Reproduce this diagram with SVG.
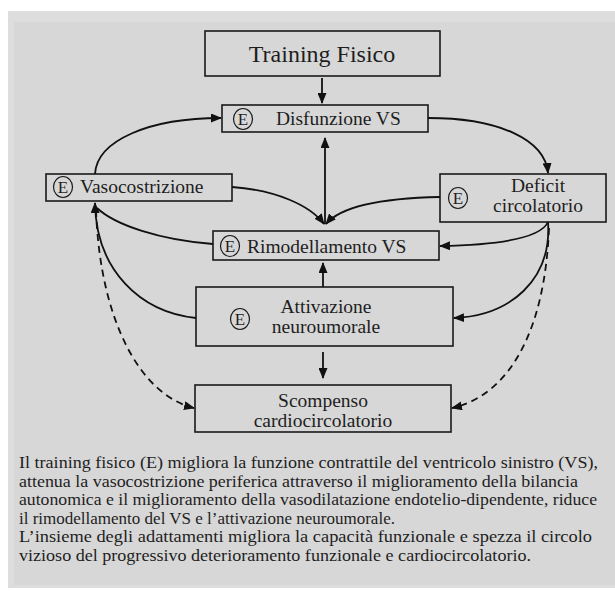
<svg xmlns="http://www.w3.org/2000/svg" width="615" height="592" viewBox="0 0 615 592">
<defs>
<marker id="ah" markerUnits="userSpaceOnUse" markerWidth="11" markerHeight="9" refX="10" refY="4.5" orient="auto">
<path d="M0,0 L11,4.5 L0,9 z" fill="#111"/>
</marker>
<style>
.box{fill:none;stroke:#1a1a1a;stroke-width:1.6}
.t{font-family:"Liberation Serif","Times New Roman",serif;font-size:19.5px;fill:#1e1e1e}
.c{text-anchor:middle}
.e{fill:none;stroke:#1a1a1a;stroke-width:1.2}
.et{font-family:"Liberation Serif","Times New Roman",serif;font-size:17px;fill:#1e1e1e;text-anchor:middle}
.ln{fill:none;stroke:#111;stroke-width:1.8}
.dash{stroke-dasharray:7,5}
.p{font-family:"Liberation Serif","Times New Roman",serif;font-size:17px;fill:#1e1e1e}
</style>
</defs>
<rect x="8" y="11" width="607" height="577" fill="#dddddd"/>
<rect x="14" y="22" width="601" height="563" fill="#d7d7d7"/>

<g id="training">
<rect class="box" x="205" y="31" width="235" height="45"/>
<text class="t c" x="322" y="62" style="font-size:24px">Training Fisico</text>
</g>
<g id="disfunzione">
<rect class="box" x="222" y="105" width="206" height="27"/>
<ellipse class="e" cx="243" cy="119" rx="9.5" ry="10.5"/>
<text class="et" x="243" y="125">E</text>
<text class="t" x="276" y="125">Disfunzione VS</text>
</g>
<g id="vasocostrizione">
<rect class="box" x="46" y="174" width="186" height="27"/>
<ellipse class="e" cx="63" cy="187" rx="9.5" ry="10.5"/>
<text class="et" x="63" y="193">E</text>
<text class="t" x="80" y="193">Vasocostrizione</text>
</g>
<g id="deficit">
<rect class="box" x="440" y="174" width="166" height="48"/>
<ellipse class="e" cx="458" cy="198" rx="9.5" ry="10.5"/>
<text class="et" x="458" y="204">E</text>
<text class="t c" x="538" y="192">Deficit</text>
<text class="t c" x="538" y="212">circolatorio</text>
</g>
<g id="rimodellamento">
<rect class="box" x="213" y="231" width="226" height="29"/>
<ellipse class="e" cx="230" cy="246" rx="9.5" ry="10.5"/>
<text class="et" x="230" y="252">E</text>
<text class="t" x="247" y="253">Rimodellamento VS</text>
</g>
<g id="attivazione">
<rect class="box" x="196" y="287" width="257" height="59"/>
<ellipse class="e" cx="240" cy="319" rx="9.5" ry="10.5"/>
<text class="et" x="240" y="325">E</text>
<text class="t c" x="326" y="313">Attivazione</text>
<text class="t c" x="326" y="333">neuroumorale</text>
</g>
<g id="scompenso">
<rect class="box" x="195" y="385" width="256" height="47"/>
<text class="t c" x="323" y="407">Scompenso</text>
<text class="t c" x="323" y="427">cardiocircolatorio</text>
</g>

<g id="connectors">
<path class="ln" d="M322,78 L322,103" marker-end="url(#ah)"/>
<path class="ln" d="M95,174 C97,140 150,118 221,118" marker-end="url(#ah)"/>
<path class="ln" d="M428,118 C500,118 545,140 548,173" marker-end="url(#ah)"/>
<path class="ln" d="M232,187 C275,190 310,205 324,224" marker-end="url(#ah)"/>
<path class="ln" d="M440,197 C390,198 342,205 326,224" marker-end="url(#ah)"/>
<path class="ln" d="M325,224 L325,138" marker-end="url(#ah)"/>
<path class="ln" d="M213,244 C160,240 115,225 97,208"/>
<path class="ln" d="M196,318 C140,312 96,270 95,203" marker-end="url(#ah)"/>
<path class="ln dash" d="M96,210 C100,320 140,395 194,408" marker-end="url(#ah)"/>
<path class="ln" d="M548,222 C540,240 490,245 440,246" marker-end="url(#ah)"/>
<path class="ln" d="M548,222 C552,280 510,316 454,318" marker-end="url(#ah)"/>
<path class="ln dash" d="M549,228 C545,330 510,395 452,408" marker-end="url(#ah)"/>
<path class="ln" d="M323,287 L323,263" marker-end="url(#ah)"/>
<path class="ln" d="M323,352 L323,378" marker-end="url(#ah)"/>
</g>

<g id="caption">
<text class="p" x="19" y="468" textLength="579" lengthAdjust="spacingAndGlyphs">Il training fisico (E) migliora la funzione contrattile del ventricolo sinistro (VS),</text>
<text class="p" x="19" y="487" textLength="559" lengthAdjust="spacingAndGlyphs">attenua la vasocostrizione periferica attraverso il miglioramento della bilancia</text>
<text class="p" x="19" y="505" textLength="578" lengthAdjust="spacingAndGlyphs">autonomica e il miglioramento della vasodilatazione endotelio-dipendente, riduce</text>
<text class="p" x="19" y="524">il rimodellamento del VS e l’attivazione neuroumorale.</text>
<text class="p" x="19" y="542" textLength="573" lengthAdjust="spacingAndGlyphs">L’insieme degli adattamenti migliora la capacità funzionale e spezza il circolo</text>
<text class="p" x="19" y="561" textLength="512" lengthAdjust="spacingAndGlyphs">vizioso del progressivo deterioramento funzionale e cardiocircolatorio.</text>
</g>
</svg>
